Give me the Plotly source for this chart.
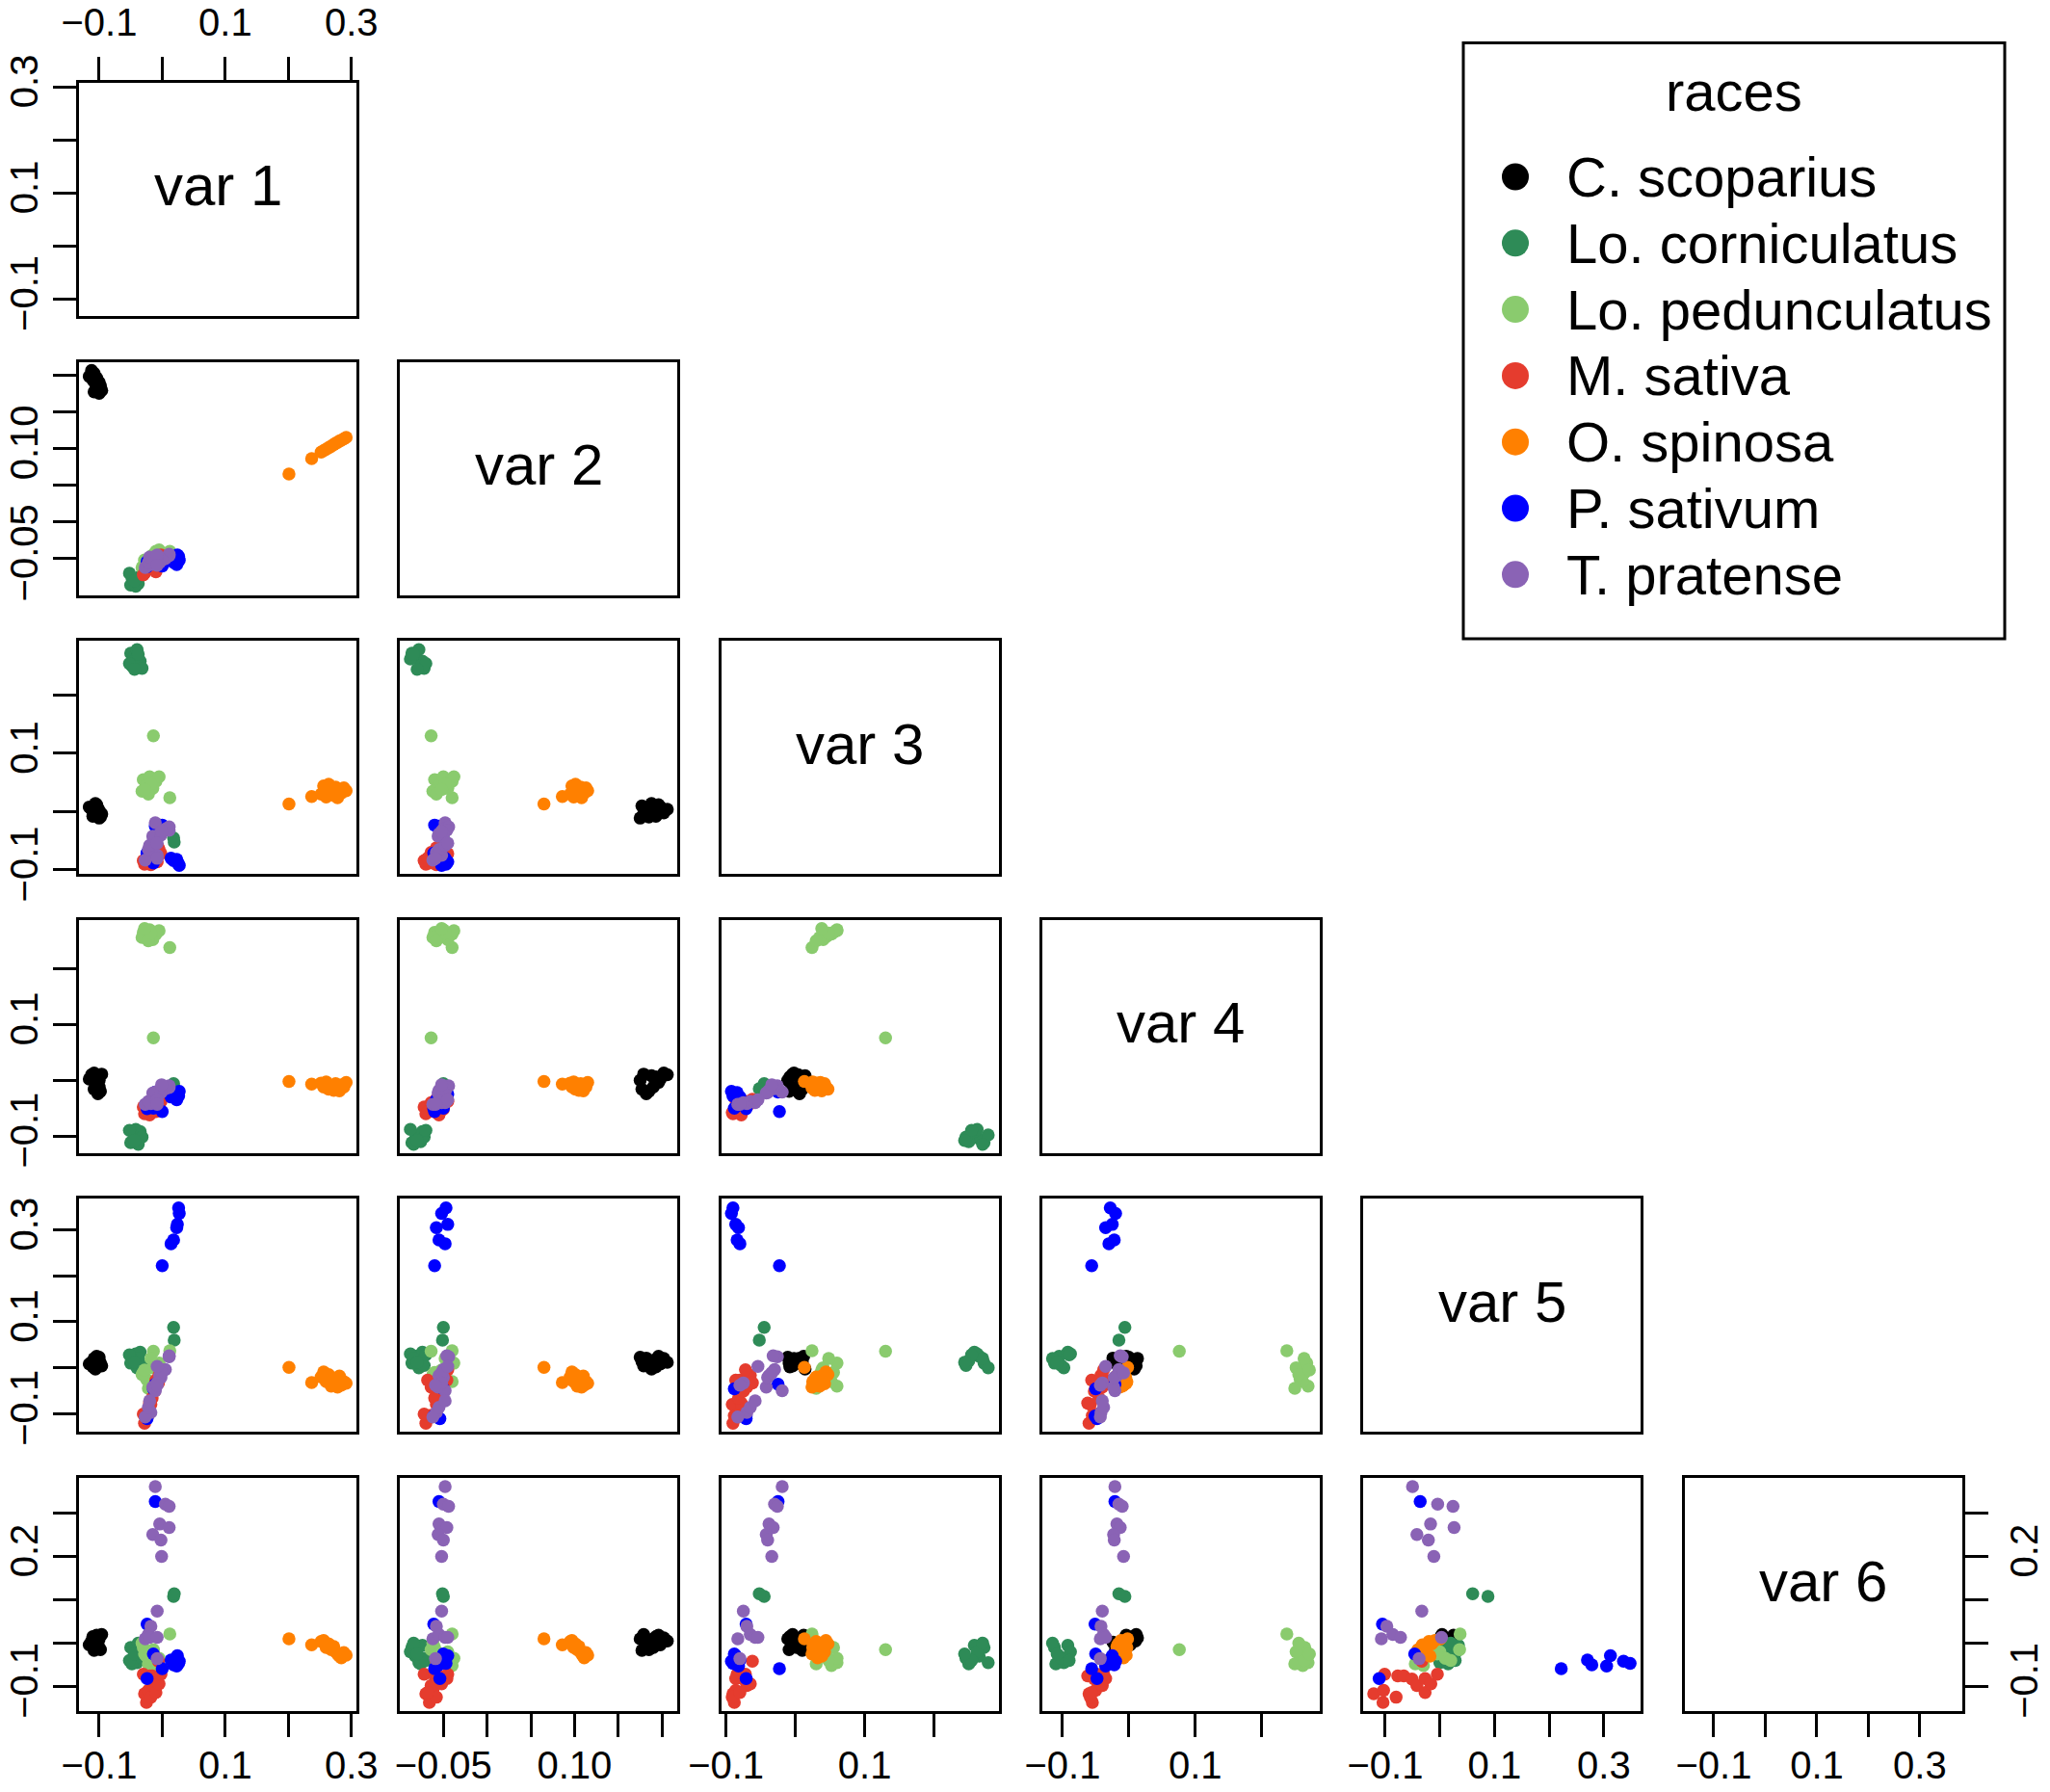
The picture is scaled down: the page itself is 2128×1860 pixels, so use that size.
import plotly.graph_objects as go

W, H = 2128, 1860
FONT = "Liberation Sans, Arial, Helvetica, sans-serif"

# ---------------- data ----------------
var_names = ["var 1", "var 2", "var 3", "var 4", "var 5", "var 6"]
var_ranges = [[-0.132, 0.308], [-0.0995, 0.2177], [-0.107, 0.293],
              [-0.1305, 0.2875], [-0.140, 0.3675], [-0.157, 0.3815]]
tick_vals = [[-0.1, 0.0, 0.1, 0.2, 0.3],
             [-0.05, 0.0, 0.05, 0.10, 0.15, 0.20],
             [-0.1, 0.0, 0.1, 0.2],
             [-0.1, 0.0, 0.1, 0.2],
             [-0.1, 0.0, 0.1, 0.2, 0.3],
             [-0.1, 0.0, 0.1, 0.2, 0.3]]
tick_text_h = [["\u22120.1", "", "0.1", "", "0.3"],
               ["\u22120.05", "", "", "0.10", "", ""],
               ["\u22120.1", "", "0.1", ""],
               ["\u22120.1", "", "0.1", ""],
               ["\u22120.1", "", "0.1", "", "0.3"],
               ["\u22120.1", "", "0.1", "", "0.3"]]
tick_text_v = [["\u22120.1", "", "0.1", "", "0.3"],
               ["\u22120.05", "", "", "0.10", "", ""],
               ["\u22120.1", "", "0.1", ""],
               ["\u22120.1", "", "0.1", ""],
               ["\u22120.1", "", "0.1", "", "0.3"],
               ["\u22120.1", "", "", "0.2", ""]]

races = ["C. scoparius", "Lo. corniculatus", "Lo. pedunculatus", "M. sativa",
         "O. spinosa", "P. sativum", "T. pratense"]
race_colors = ["#000000", "#2E8B57", "#8ACB6E", "#E53C2E", "#FF8000", "#0000FF", "#8A63B5"]

# each point: (var1, var2, var3, var4, var5, var6)
c_scoparius = [
    (-0.112, 0.206, 0.004, 0.010, 0.012, 0.005),
    (-0.108, 0.202, -0.002, 0.013, 0.020, 0.012),
    (-0.1157, 0.198, 0.008, 0.002, 0.008, -0.004),
    (-0.104, 0.196, 0.012, -0.004, 0.025, 0.018),
    (-0.110, 0.193, -0.008, 0.006, 0.002, 0.015),
    (-0.100, 0.190, 0.002, -0.012, 0.016, -0.010),
    (-0.106, 0.188, 0.014, 0.008, -0.003, 0.008),
    (-0.098, 0.185, -0.009, -0.020, 0.010, -0.015),
    (-0.102, 0.182, 0.006, -0.024, 0.021, 0.002),
    (-0.096, 0.179, -0.004, 0.011, 0.004, 0.020),
    (-0.108, 0.177, 0.010, -0.016, 0.014, -0.017),
    (-0.100, 0.175, -0.011, 0.000, 0.023, 0.010),
]
lo_corniculatus = [
    (0.018, -0.050, -0.045, -0.006, 0.088, 0.108),
    (0.019, -0.051, -0.052, -0.015, 0.060, 0.114),
    (-0.050, -0.086, 0.272, -0.112, 0.010, -0.010),
    (-0.045, -0.082, 0.265, -0.105, 0.025, -0.030),
    (-0.040, -0.078, 0.278, -0.098, 0.000, -0.045),
    (-0.035, -0.074, 0.258, -0.092, 0.034, -0.005),
    (-0.048, -0.076, 0.250, -0.110, 0.015, -0.048),
    (-0.042, -0.0877, 0.262, -0.088, 0.030, -0.020),
    (-0.032, -0.072, 0.246, -0.102, 0.005, -0.035),
    (-0.038, -0.084, 0.270, -0.115, 0.020, 0.000),
    (-0.052, -0.070, 0.254, -0.090, 0.028, -0.040),
    (-0.044, -0.080, 0.244, -0.108, 0.012, -0.025),
]
lo_pedunculatus = [
    (-0.014, -0.064, 0.130, 0.076, 0.036, -0.015),
    (0.012, -0.040, 0.024, 0.238, 0.037, 0.021),
    (-0.030, -0.060, 0.055, 0.265, -0.010, -0.010),
    (-0.025, -0.055, 0.045, 0.258, -0.025, -0.030),
    (-0.020, -0.050, 0.060, 0.270, -0.040, -0.045),
    (-0.015, -0.045, 0.040, 0.252, 0.000, -0.020),
    (-0.010, -0.040, 0.052, 0.262, -0.030, -0.052),
    (-0.032, -0.062, 0.035, 0.256, -0.015, 0.000),
    (-0.005, -0.038, 0.060, 0.268, 0.010, -0.035),
    (-0.022, -0.058, 0.030, 0.250, -0.045, -0.048),
    (-0.018, -0.048, 0.048, 0.264, 0.020, -0.040),
    (-0.028, -0.052, 0.038, 0.272, -0.005, -0.025),
]
m_sativa = [
    (-0.028, -0.070, -0.090, -0.060, -0.121, -0.117),
    (-0.025, -0.066, -0.088, -0.055, -0.104, -0.137),
    (-0.022, -0.062, -0.086, -0.050, -0.103, -0.109),
    (-0.018, -0.058, -0.091, -0.058, -0.080, -0.125),
    (-0.030, -0.072, -0.084, -0.048, -0.101, -0.072),
    (-0.020, -0.055, -0.078, -0.062, -0.077, -0.076),
    (-0.016, -0.060, -0.082, -0.045, -0.066, -0.076),
    (-0.012, -0.050, -0.075, -0.052, -0.051, -0.083),
    (-0.014, -0.064, -0.070, -0.040, -0.042, -0.098),
    (-0.008, -0.046, -0.086, -0.035, -0.027, -0.082),
    (-0.010, -0.068, -0.080, -0.056, -0.027, -0.114),
    (-0.005, -0.052, -0.065, -0.042, -0.0165, -0.094),
    (-0.002, -0.045, -0.072, -0.038, -0.0046, -0.072),
    (-0.006, -0.058, -0.062, -0.034, -0.033, -0.042),
]
o_spinosa = [
    (0.201, 0.065, 0.013, -0.002, 0.001, 0.010),
    (0.237, 0.086, 0.026, -0.007, -0.032, -0.004),
    (0.252, 0.095, 0.030, -0.005, -0.020, 0.004),
    (0.256, 0.097, 0.044, -0.012, -0.009, 0.006),
    (0.260, 0.099, 0.025, -0.003, -0.030, -0.010),
    (0.264, 0.101, 0.047, -0.016, -0.015, -0.002),
    (0.268, 0.103, 0.035, -0.010, -0.040, -0.015),
    (0.272, 0.105, 0.028, -0.018, -0.025, -0.008),
    (0.275, 0.107, 0.042, -0.006, -0.035, -0.020),
    (0.278, 0.108, 0.024, -0.014, -0.042, -0.025),
    (0.281, 0.110, 0.038, -0.019, -0.018, -0.030),
    (0.284, 0.111, 0.032, -0.008, -0.038, -0.034),
    (0.288, 0.113, 0.041, -0.012, -0.030, -0.022),
    (0.2917, 0.115, 0.036, -0.004, -0.034, -0.028),
]
p_sativum = [
    (0.000, -0.060, -0.023, -0.056, 0.222, -0.059),
    (0.014, -0.048, -0.080, -0.030, 0.270, -0.039),
    (0.018, -0.055, -0.084, -0.022, 0.278, -0.050),
    (0.024, -0.045, -0.086, -0.025, 0.312, -0.029),
    (0.023, -0.058, -0.082, -0.035, 0.305, -0.053),
    (0.027, -0.052, -0.0922, -0.020, 0.336, -0.042),
    (0.026, -0.047, -0.090, -0.028, 0.348, -0.047),
    (-0.011, -0.055, -0.025, -0.021, -0.036, 0.327),
    (-0.024, -0.061, -0.071, -0.051, -0.105, 0.044),
    (-0.014, -0.050, -0.088, -0.050, -0.046, -0.025),
    (-0.024, -0.054, -0.071, -0.048, -0.111, -0.082),
]
t_pratense = [
    (-0.011, -0.048, -0.019, -0.021, -0.050, 0.3615),
    (0.005, -0.050, -0.030, -0.015, -0.004, 0.321),
    (0.011, -0.044, -0.026, -0.010, 0.024, 0.316),
    (-0.004, -0.055, -0.038, -0.018, -0.017, 0.275),
    (0.011, -0.046, -0.032, -0.013, 0.026, 0.267),
    (-0.015, -0.056, -0.042, -0.023, -0.042, 0.251),
    (-0.002, -0.050, -0.040, -0.022, -0.021, 0.238),
    (-0.001, -0.052, -0.034, -0.008, -0.011, 0.200),
    (-0.008, -0.052, -0.075, -0.040, -0.033, 0.074),
    (-0.018, -0.058, -0.070, -0.042, -0.097, 0.039),
    (-0.027, -0.062, -0.083, -0.043, -0.107, 0.010),
    (-0.022, -0.055, -0.065, -0.038, -0.086, 0.020),
    (-0.020, -0.048, -0.058, -0.040, -0.072, 0.013),
    (-0.008, -0.045, -0.054, -0.035, 0.003, 0.013),
    (-0.008, -0.059, -0.080, -0.043, -0.038, -0.036),
]
race_points = [c_scoparius, lo_corniculatus, lo_pedunculatus, m_sativa,
               o_spinosa, p_sativum, t_pratense]


# ---------------- geometry helpers (page pixels -> paper) ----------------
def px(xp):
    return xp / W


def py(yp):
    return 1 - yp / H


NV = 6
col_left = [82 + 333.3 * i for i in range(NV)]
row_top = [86 + 289.6 * j for j in range(NV)]
PW, PH = 288, 242
TICK_FONT = dict(family=FONT, size=40, color="black")

fig = go.Figure()
layout = {}
annotations = []
n = 0
for r in range(NV):
    for c in range(r + 1):
        n += 1
        xname = "x" if n == 1 else f"x{n}"
        yname = "y" if n == 1 else f"y{n}"
        xkey = "xaxis" if n == 1 else f"xaxis{n}"
        ykey = "yaxis" if n == 1 else f"yaxis{n}"
        base = dict(showgrid=False, zeroline=False, showline=True, linewidth=3,
                    linecolor="black", mirror=True, ticks="", showticklabels=False,
                    fixedrange=True, automargin=False)
        xa = dict(base, domain=[px(col_left[c]), px(col_left[c] + PW)],
                  range=var_ranges[c], anchor=yname)
        ya = dict(base, domain=[py(row_top[r] + PH), py(row_top[r])],
                  range=var_ranges[r], anchor=xname)
        tick_common = dict(ticks="outside", ticklen=24, tickwidth=3, tickcolor="black",
                           showticklabels=True, tickfont=TICK_FONT)
        if r == NV - 1:
            xa.update(tick_common, tickvals=tick_vals[c], ticktext=tick_text_h[c],
                      ticklabelstandoff=-5)
        if r == 0 and c == 0:
            xa.update(tick_common, side="top", tickvals=tick_vals[c],
                      ticktext=tick_text_h[c], ticklabelstandoff=6)
        if c == 0:
            ya.update(tick_common, tickvals=tick_vals[r], ticktext=tick_text_v[r],
                      tickangle=-90, ticklabelstandoff=0)
        if r == NV - 1 and c == NV - 1:
            ya.update(tick_common, side="right", tickvals=tick_vals[r],
                      ticktext=tick_text_v[r], tickangle=-90, ticklabelstandoff=3)
        layout[xkey] = xa
        layout[ykey] = ya

        if r == c:
            # empty trace so the diagonal panel (box + axes) is drawn
            fig.add_trace(go.Scatter(x=[], y=[], mode="markers", xaxis=xname,
                                     yaxis=yname, showlegend=False, hoverinfo="skip"))
            annotations.append(dict(text=var_names[r], xref=f"{xname} domain",
                                    yref=f"{yname} domain", x=0.5, y=0.5, yshift=14,
                                    showarrow=False,
                                    font=dict(family=FONT, size=60, color="black")))
        else:
            for k, pts in enumerate(race_points):
                fig.add_trace(go.Scatter(
                    x=[p[c] for p in pts], y=[p[r] for p in pts],
                    mode="markers", xaxis=xname, yaxis=yname, showlegend=False,
                    name=races[k], cliponaxis=False,
                    marker=dict(color=race_colors[k], size=13.5, line=dict(width=0))))

# ---------------- legend (drawn as a framed box) ----------------
LX0, LX1, LY0, LY1 = 1519, 2081, 44.5, 663
LEG_FONT = dict(family=FONT, size=58, color="black")
shapes = [dict(type="rect", xref="paper", yref="paper",
               x0=px(LX0), x1=px(LX1), y0=py(LY1), y1=py(LY0),
               line=dict(color="black", width=3), fillcolor="rgba(0,0,0,0)")]
annotations.append(dict(text="races", xref="paper", yref="paper",
                        x=px(1800), y=py(95), xanchor="center", yanchor="middle",
                        showarrow=False, font=LEG_FONT))
DOT_X, DOT_R = 1573, 14
for k, name in enumerate(races):
    cy = 183.5 + 68.8 * k
    shapes.append(dict(type="circle", xref="paper", yref="paper",
                       x0=px(DOT_X - DOT_R), x1=px(DOT_X + DOT_R),
                       y0=py(cy + DOT_R), y1=py(cy - DOT_R),
                       line=dict(width=0), fillcolor=race_colors[k]))
    annotations.append(dict(text=name, xref="paper", yref="paper",
                            x=px(1624), y=py(cy), xanchor="left", yanchor="middle",
                            showarrow=False, font=LEG_FONT))

fig.update_layout(template="none", width=W, height=H,
                  margin=dict(l=0, r=0, t=0, b=0, autoexpand=False),
                  paper_bgcolor="white", plot_bgcolor="white",
                  showlegend=False, annotations=annotations, shapes=shapes,
                  font=dict(family=FONT, color="black"), **layout)

# remove the default page margin so the figure fills the browser window exactly
fig.write_html("out.html", config={"displayModeBar": False},
               post_script="document.body.style.margin='0px';"
                           "document.body.style.padding='0px';"
                           "document.documentElement.style.overflow='hidden';")
